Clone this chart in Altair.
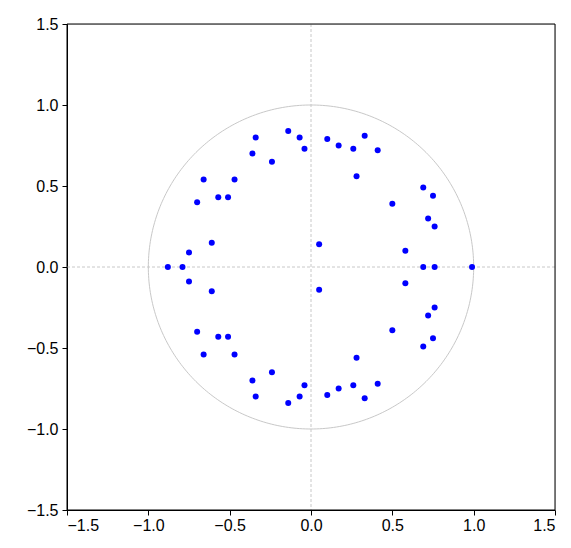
import altair as alt
import numpy as np
import pandas as pd

# inverse roots, upper half-plane (lower half are the conjugates)
re_up = [0.99, -0.88, -0.79, -0.75, -0.61, 0.05, 0.76, 0.69, 0.58, 0.76, 0.72,
         0.75, 0.69, 0.50, 0.28, 0.41, 0.33, 0.26, 0.17, 0.10, -0.04, -0.07,
         -0.14, -0.24, -0.34, -0.36, -0.47, -0.51, -0.57, -0.66, -0.70]
im_up = [0.0, 0.0, 0.0, 0.09, 0.15, 0.14, 0.0, 0.0, 0.10, 0.25, 0.30,
         0.44, 0.49, 0.39, 0.56, 0.72, 0.81, 0.73, 0.75, 0.79, 0.73, 0.80,
         0.84, 0.65, 0.80, 0.70, 0.54, 0.43, 0.43, 0.54, 0.40]

roots = pd.DataFrame({
    "re": re_up + [r for r, i in zip(re_up, im_up) if i != 0],
    "im": im_up + [-i for i in im_up if i != 0],
})

t = np.linspace(0, 2 * np.pi, 361)
circle = pd.DataFrame({"re": np.cos(t), "im": np.sin(t), "k": range(361)})

ticks = [-1.5, -1.0, -0.5, 0.0, 0.5, 1.0, 1.5]
sc = alt.Scale(domain=[-1.5, 1.5], nice=False, zero=False)
ax = dict(values=ticks, format=".1f", title=None, grid=False, domain=True,
          domainColor="black", tickColor="black", tickSize=5, labelFontSize=16,
          labelFont="Liberation Sans", labelColor="black")

x = alt.X("re:Q", scale=sc, axis=alt.Axis(**ax))
y = alt.Y("im:Q", scale=sc, axis=alt.Axis(**ax, labelPadding=4))

ring = alt.Chart(circle).mark_line(color="#c8c8c8", strokeWidth=1).encode(
    x=x, y=y, order="k:Q")

zero = pd.DataFrame({"v": [0.0]})
hrule = alt.Chart(zero).mark_rule(color="#c8c8c8", strokeDash=[3, 2]).encode(
    y=alt.Y("v:Q", scale=sc))
vrule = alt.Chart(zero).mark_rule(color="#c8c8c8", strokeDash=[3, 2]).encode(
    x=alt.X("v:Q", scale=sc))

frame_df = pd.DataFrame({"x0": [-1.5], "x1": [1.5], "y0": [-1.5], "y1": [1.5]})
frame = alt.Chart(frame_df).mark_rect(fill=None, stroke="black", strokeWidth=1).encode(
    x=alt.X("x0:Q", scale=sc), x2="x1:Q", y=alt.Y("y0:Q", scale=sc), y2="y1:Q")

pts = alt.Chart(roots).mark_circle(color="#0000ff", opacity=1, size=36).encode(
    x=x, y=y)

chart = (
    alt.layer(hrule, vrule, ring, frame, pts)
    .properties(width=488, height=486,
                autosize=alt.AutoSizeParams(type="none"),
                padding={"left": 59, "top": 16, "right": 8, "bottom": 30})
    .configure_view(stroke=None)
    .configure(background="white")
)

chart.save("out.html", embed_options={"renderer": "svg", "actions": False})
